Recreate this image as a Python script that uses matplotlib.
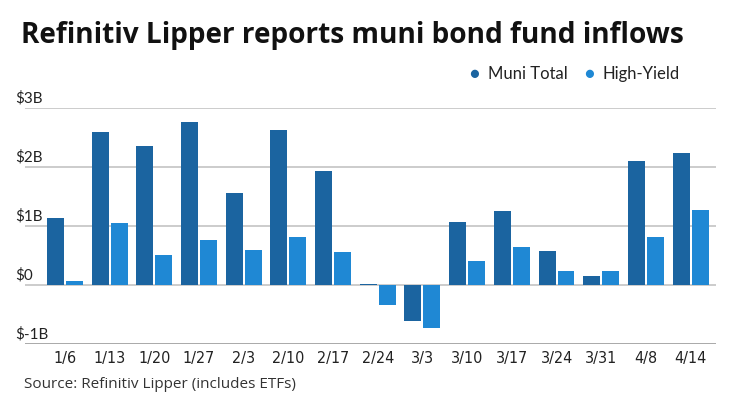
import matplotlib.pyplot as plt
import numpy as np

weeks = ["1/6", "1/13", "1/20", "1/27", "2/3", "2/10", "2/17", "2/24",
         "3/3", "3/10", "3/17", "3/24", "3/31", "4/8", "4/14"]
muni_total = [1.14, 2.59, 2.36, 2.77, 1.57, 2.63, 1.94, 0.03,
              -0.61, 1.08, 1.26, 0.58, 0.15, 2.11, 2.25]
high_yield = [0.08, 1.05, 0.52, 0.77, 0.60, 0.82, 0.57, -0.33,
              -0.73, 0.42, 0.65, 0.25, 0.24, 0.81, 1.27]
ytick_vals = [-1, 0, 1, 2, 3]
ytick_labels = ["$-1B", "$0", "$1B", "$2B", "$3B"]

c_muni = "#1b64a0"
c_hy = "#1f88d4"
font = ["Lato", "DejaVu Sans"]
title_font = ["Open Sans", "DejaVu Sans"]

fig = plt.figure(figsize=(7.4, 4.16), dpi=100)
ax = fig.add_axes([0.0338, 0.1724, 0.9338, 0.5673])

x = np.arange(len(weeks))
w = 0.38
gap = 0.045
ax.bar(x - (w + gap) / 2, muni_total, width=w, color=c_muni, zorder=3)
ax.bar(x + (w + gap) / 2, high_yield, width=w, color=c_hy, zorder=3)

ax.set_xlim(-0.895, 14.57)
ax.set_ylim(-1, 3)
for v in ytick_vals:
    ax.axhline(v, color="#c4c4c4", lw=1.2, zorder=1)
ax.axhline(-1, color="#a8a8a8", lw=1.3, zorder=1)

for s in ax.spines.values():
    s.set_visible(False)
ax.set_yticks([])
ax.set_xticks(x)
ax.set_xticklabels(weeks, family=["DejaVu Sans"], fontstretch="condensed",
                   fontsize=11.5, color="#222222")
ax.tick_params(axis="x", length=0, pad=5)

# y labels sit above the gridlines, at the left edge
for v, lab in zip(ytick_vals, ytick_labels):
    fig.text(15 / 740, 1 - (285.3 - v * 59 - 3) / 416, lab, family=font,
             fontsize=11, color="#222222", ha="left", va="bottom")

fig.text(21 / 740, 1 - 36 / 416, "Refinitiv Lipper reports muni bond fund inflows",
         family=title_font, fontweight="bold", fontsize=20.2, color="#111111",
         ha="left", va="center")

# legend
fig.text(474 / 740, 1 - 74 / 416, "\u25cf", family=font, fontsize=12, color=c_muni,
         ha="center", va="center")
fig.text(488 / 740, 1 - 74 / 416, "Muni Total", family=font, fontsize=12,
         color="#222222", ha="left", va="center")
fig.text(589 / 740, 1 - 74 / 416, "\u25cf", family=font, fontsize=12, color=c_hy,
         ha="center", va="center")
fig.text(603 / 740, 1 - 74 / 416, "High-Yield", family=font, fontsize=12,
         color="#222222", ha="left", va="center")

fig.text(24 / 740, 1 - 384 / 416, "Source: Refinitiv Lipper (includes ETFs)",
         family=title_font, fontsize=11, color="#333333", ha="left", va="center")

fig.savefig("out.png", dpi=100)
